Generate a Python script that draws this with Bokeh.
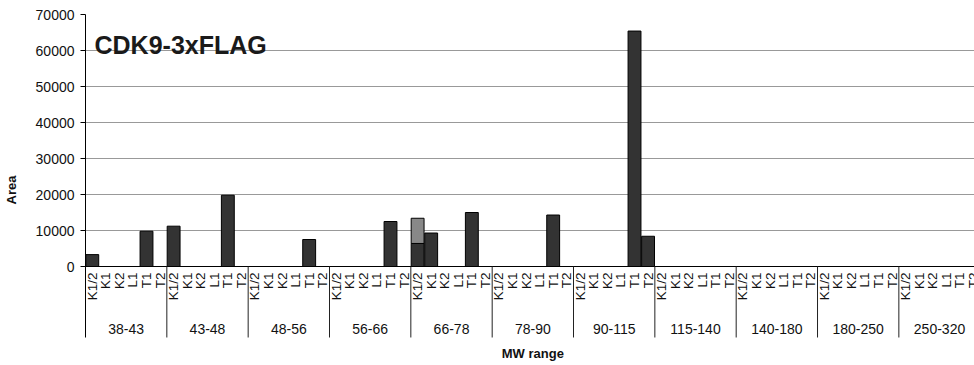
from math import pi
from bokeh.plotting import figure
from bokeh.models import Range1d, FixedTicker
from bokeh.core.properties import value
from bokeh.embed import file_html
from bokeh.resources import INLINE

# ---- data ----
groups = ["38-43", "43-48", "48-56", "56-66", "66-78", "78-90",
          "90-115", "115-140", "140-180", "180-250", "250-320"]
cats = ["K1/2", "K1", "K2", "L1", "T1", "T2"]

# main (dark) series, one row of 6 per MW range
dark_38_43 = [3300, 0, 0, 0, 9800, 0]
dark_43_48 = [11200, 0, 0, 0, 19800, 0]
dark_48_56 = [0, 0, 0, 0, 7500, 0]
dark_56_66 = [0, 0, 0, 0, 12500, 0]
dark_66_78 = [6400, 9300, 0, 0, 15000, 0]
dark_78_90 = [0, 0, 0, 0, 14300, 0]
dark_90_115 = [0, 0, 0, 0, 65400, 8400]
dark_115_140 = [0, 0, 0, 0, 0, 0]
dark_140_180 = [0, 0, 0, 0, 0, 0]
dark_180_250 = [0, 0, 0, 0, 0, 0]
dark_250_320 = [0, 0, 0, 0, 0, 0]

# second (light) stacked series
light_66_78 = [7000, 0, 0, 0, 0, 0]

y_ticks = [0, 10000, 20000, 30000, 40000, 50000, 60000, 70000]

dark_rows = [dark_38_43, dark_43_48, dark_48_56, dark_56_66, dark_66_78, dark_78_90,
             dark_90_115, dark_115_140, dark_140_180, dark_180_250, dark_250_320]
light_rows = {"66-78": light_66_78}

FONT = value("Liberation Sans")
ncat = len(cats)
n = len(groups) * ncat

# ---- build sources ----
bx, btop, lx, lbot, ltop = [], [], [], [], []
cx, ctext, gx = [], [], []
for gi, g in enumerate(groups):
    gx.append(gi * ncat + ncat / 2)
    lrow = light_rows.get(g, [0] * ncat)
    for ci, c in enumerate(cats):
        x = gi * ncat + ci + 0.5
        cx.append(x)
        ctext.append(c)
        v = dark_rows[gi][ci]
        if v > 0:
            bx.append(x); btop.append(v)
        if lrow[ci] > 0:
            lx.append(x); lbot.append(v); ltop.append(v + lrow[ci])

x_end = n - 0.42
y_low = -27500
axis_low = -19722

p = figure(width=974, height=365, x_range=Range1d(0, x_end), y_range=Range1d(y_low, 70000),
           output_backend="svg", toolbar_location=None, x_axis_location=None,
           min_border_left=84, min_border_right=0, min_border_top=14, min_border_bottom=0)
p.outline_line_color = None
p.background_fill_color = "white"
p.xgrid.visible = False

p.ygrid.ticker = FixedTicker(ticks=y_ticks)
p.ygrid.grid_line_color = "#999999"
p.ygrid.grid_line_width = 1

ax = p.yaxis[0]
ax.ticker = FixedTicker(ticks=y_ticks)
ax.bounds = (axis_low, 70000)
ax.axis_line_color = "black"
ax.major_tick_line_color = "black"
ax.major_tick_out = 5
ax.major_tick_in = 0
ax.minor_tick_line_color = None
ax.major_label_standoff = 6
ax.major_label_text_font = "Liberation Sans"
ax.major_label_text_font_size = "14px"
ax.major_label_text_color = "#111111"
ax.axis_label = "Area"
ax.axis_label_text_font = "Liberation Sans"
ax.axis_label_text_font_style = "bold"
ax.axis_label_text_font_size = "13px"
ax.axis_label_standoff = 14
ax.axis_label_text_color = "#111111"

# bars
p.vbar(x=bx, top=btop, bottom=0, width=0.95, fill_color="#333333", line_color="black", line_width=1)
p.vbar(x=lx, top=ltop, bottom=lbot, width=0.95, fill_color="#888888", line_color="black", line_width=1)

# x axis line
p.segment(x0=[0], y0=[0], x1=[x_end], y1=[0], line_color="black", line_width=1)

# group separators
sep_x = [gi * ncat for gi in range(1, len(groups))]
p.segment(x0=sep_x, y0=[0] * len(sep_x), x1=sep_x, y1=[axis_low] * len(sep_x),
          line_color="#222222", line_width=1)

# category labels
p.text(x=cx, y=[0] * len(cx), text=ctext, angle=pi / 2, text_align="right",
       text_baseline="middle", y_offset=6, text_font=FONT, text_font_size="13.5px",
       text_color="#111111")

# group labels
p.text(x=gx, y=[0] * len(gx), text=groups, text_align="center", text_baseline="middle",
       y_offset=62, text_font=FONT, text_font_size="14px", text_color="#111111")

# x axis title
p.text(x=[33.0], y=[0], text=["MW range"], text_align="center", text_baseline="middle",
       y_offset=87, text_font=FONT, text_font_size="13px", text_font_style="bold",
       text_color="#111111")

# chart title
p.text(x=[0], y=[70000], text=["CDK9-3xFLAG"], text_align="left", text_baseline="alphabetic",
       x_offset=9, y_offset=30, text_font=FONT, text_font_size="25px", text_font_style="bold",
       text_color="#1a1a1a")

open("out.html", "w").write(file_html(p, INLINE))
